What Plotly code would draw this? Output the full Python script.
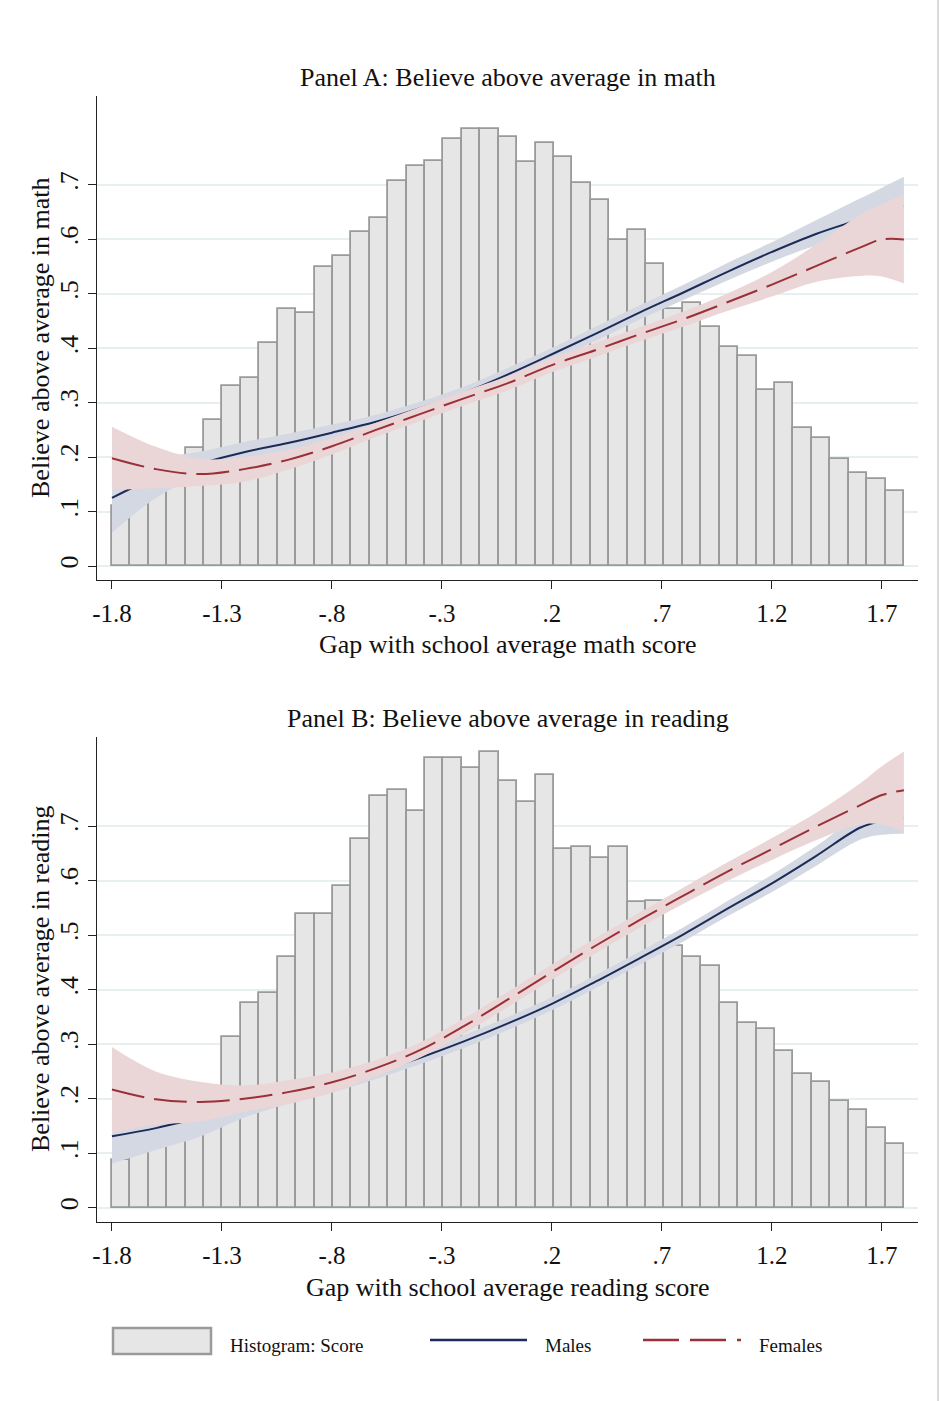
import numpy as np
import plotly.graph_objects as go

# ---------------- data ----------------
# histogram: 43 equal-width bins spanning the score gap range
hist_start, hist_end = -1.8, 1.8
math_hist = [0.110, 0.135, 0.160, 0.185, 0.217, 0.268, 0.331, 0.345, 0.410, 0.472,
             0.465, 0.549, 0.570, 0.614, 0.640, 0.708, 0.734, 0.745, 0.785, 0.802,
             0.802, 0.788, 0.742, 0.778, 0.752, 0.704, 0.672, 0.599, 0.617, 0.555,
             0.472, 0.483, 0.440, 0.403, 0.385, 0.323, 0.337, 0.254, 0.236, 0.196,
             0.170, 0.160, 0.138]
read_hist = [0.0875, 0.120, 0.140, 0.160, 0.185, 0.210, 0.314, 0.375, 0.393, 0.459,
             0.539, 0.539, 0.590, 0.677, 0.755, 0.766, 0.728, 0.825, 0.825, 0.806,
             0.836, 0.782, 0.745, 0.793, 0.658, 0.661, 0.641, 0.661, 0.560, 0.563,
             0.480, 0.459, 0.444, 0.375, 0.338, 0.327, 0.288, 0.245, 0.230, 0.195,
             0.179, 0.147, 0.117]

# fitted shares and 95% bands, evaluated on a common grid of the score gap
gap = [-1.8, -1.6, -1.4, -1.2, -1.0, -0.8, -0.6, -0.4, -0.2, 0.0,
       0.2, 0.4, 0.6, 0.8, 1.0, 1.2, 1.4, 1.6, 1.7, 1.8]

math_male = [0.125, 0.163, 0.188, 0.209, 0.226, 0.245, 0.265, 0.290, 0.318, 0.352,
             0.389, 0.427, 0.466, 0.503, 0.541, 0.577, 0.610, 0.637, 0.651, 0.662]
math_male_lo = [0.061, 0.125, 0.166, 0.190, 0.210, 0.230, 0.252, 0.278, 0.306, 0.340,
                0.377, 0.414, 0.453, 0.489, 0.525, 0.559, 0.588, 0.600, 0.605, 0.607]
math_male_hi = [0.190, 0.200, 0.210, 0.228, 0.243, 0.260, 0.278, 0.302, 0.330, 0.364,
                0.401, 0.440, 0.479, 0.517, 0.557, 0.595, 0.635, 0.675, 0.695, 0.715]
math_fem = [0.198, 0.178, 0.169, 0.178, 0.195, 0.220, 0.250, 0.279, 0.308, 0.336,
            0.369, 0.397, 0.426, 0.454, 0.485, 0.517, 0.551, 0.585, 0.600, 0.600]
math_fem_lo = [0.140, 0.143, 0.147, 0.155, 0.177, 0.205, 0.237, 0.266, 0.295, 0.323,
               0.356, 0.384, 0.413, 0.440, 0.469, 0.495, 0.522, 0.533, 0.532, 0.519]
math_fem_hi = [0.256, 0.219, 0.197, 0.200, 0.213, 0.235, 0.263, 0.292, 0.321, 0.349,
               0.382, 0.410, 0.439, 0.468, 0.501, 0.540, 0.590, 0.645, 0.665, 0.682]

read_male = [0.131, 0.146, 0.165, 0.184, 0.204, 0.224, 0.248, 0.275, 0.305, 0.338,
             0.374, 0.415, 0.458, 0.502, 0.549, 0.595, 0.645, 0.697, 0.710, 0.715]
read_male_lo = [0.081, 0.106, 0.130, 0.165, 0.190, 0.211, 0.236, 0.263, 0.293, 0.326,
                0.362, 0.403, 0.446, 0.489, 0.535, 0.579, 0.627, 0.675, 0.684, 0.686]
read_male_hi = [0.180, 0.185, 0.195, 0.203, 0.218, 0.237, 0.260, 0.287, 0.317, 0.350,
                0.386, 0.427, 0.470, 0.515, 0.563, 0.611, 0.663, 0.720, 0.735, 0.745]
read_fem = [0.217, 0.199, 0.194, 0.200, 0.212, 0.230, 0.256, 0.289, 0.333, 0.382,
            0.432, 0.481, 0.528, 0.573, 0.617, 0.658, 0.699, 0.738, 0.757, 0.766]
read_fem_lo = [0.137, 0.152, 0.158, 0.176, 0.190, 0.212, 0.241, 0.275, 0.319, 0.368,
               0.418, 0.467, 0.514, 0.558, 0.600, 0.638, 0.674, 0.703, 0.703, 0.690]
read_fem_hi = [0.295, 0.250, 0.231, 0.224, 0.234, 0.248, 0.271, 0.303, 0.347, 0.396,
               0.446, 0.495, 0.542, 0.588, 0.634, 0.678, 0.724, 0.778, 0.810, 0.837]

x_tickvals = [-1.8, -1.3, -0.8, -0.3, 0.2, 0.7, 1.2, 1.7]
x_ticktext = ["-1.8", "-1.3", "-.8", "-.3", ".2", ".7", "1.2", "1.7"]
y_tickvals = [0, 0.1, 0.2, 0.3, 0.4, 0.5, 0.6, 0.7]
y_ticktext = ["0", ".1", ".2", ".3", ".4", ".5", ".6", ".7"]

# ---------------- styling ----------------
W, H = 940, 1401
FONT = "Liberation Serif"
BAR_FILL, BAR_EDGE = "#E6E6E6", "#9A9A9A"
NAVY, NAVY_BAND = "#1C2B58", "#D3D8E2"
RED, RED_BAND = "#9A3038", "#EBD6D7"
GRID = "#E8EFF1"
DASH = "33px,10px"


def px(x):
    return x / W


def py(y):
    return 1 - y / H


n_bins = len(math_hist)
bin_w = (hist_end - hist_start) / n_bins
centers = hist_start + bin_w * (np.arange(n_bins) + 0.5)

fig = go.Figure()


def add_panel(hist, male, male_lo, male_hi, fem, fem_lo, fem_hi, xa, ya):
    fig.add_trace(go.Bar(x=centers, y=hist, width=bin_w, xaxis=xa, yaxis=ya,
                         marker=dict(color=BAR_FILL, line=dict(color=BAR_EDGE, width=1.8)),
                         name="Histogram: Score", showlegend=False))
    fig.add_trace(go.Scatter(x=gap, y=male_lo, xaxis=xa, yaxis=ya, mode="lines",
                             line=dict(width=0, shape="spline"), showlegend=False,
                             hoverinfo="skip"))
    fig.add_trace(go.Scatter(x=gap, y=male_hi, xaxis=xa, yaxis=ya, mode="lines",
                             line=dict(width=0, shape="spline"), fill="tonexty",
                             fillcolor=NAVY_BAND, showlegend=False, hoverinfo="skip"))
    fig.add_trace(go.Scatter(x=gap, y=male, xaxis=xa, yaxis=ya, mode="lines",
                             line=dict(color=NAVY, width=2, shape="spline"),
                             name="Males", showlegend=False))
    fig.add_trace(go.Scatter(x=gap, y=fem_lo, xaxis=xa, yaxis=ya, mode="lines",
                             line=dict(width=0, shape="spline"), showlegend=False,
                             hoverinfo="skip"))
    fig.add_trace(go.Scatter(x=gap, y=fem_hi, xaxis=xa, yaxis=ya, mode="lines",
                             line=dict(width=0, shape="spline"), fill="tonexty",
                             fillcolor=RED_BAND, showlegend=False, hoverinfo="skip"))
    fig.add_trace(go.Scatter(x=gap, y=fem, xaxis=xa, yaxis=ya, mode="lines",
                             line=dict(color=RED, width=2, shape="spline", dash=DASH),
                             name="Females", showlegend=False))


add_panel(math_hist, math_male, math_male_lo, math_male_hi,
          math_fem, math_fem_lo, math_fem_hi, "x", "y")
add_panel(read_hist, read_male, read_male_lo, read_male_hi,
          read_fem, read_fem_lo, read_fem_hi, "x2", "y2")

x_dom = [px(97), px(918)]
x_range = [-1.868, 1.864]
y_range = [-0.0257, 0.8635]

xcommon = dict(range=x_range, tickvals=x_tickvals, ticktext=x_ticktext,
               ticks="outside", ticklen=8, tickwidth=1.2, tickcolor="#222",
               showline=True, linecolor="#222", linewidth=1.2, showgrid=False,
               zeroline=False, tickfont=dict(family=FONT, size=25, color="#111"),
               ticklabelstandoff=3, automargin=False,
               domain=x_dom, fixedrange=True)
ycommon = dict(range=y_range, tickvals=y_tickvals, ticktext=y_ticktext,
               ticks="outside", ticklen=8, tickwidth=1.2, tickcolor="#222",
               showline=True, linecolor="#222", linewidth=1.2, showgrid=True,
               gridcolor=GRID, gridwidth=1.5, zeroline=False, tickangle=-90,
               automargin=False,
               tickfont=dict(family=FONT, size=26, color="#111"), fixedrange=True)

fig.update_layout(
    width=W, height=H,
    margin=dict(l=0, r=0, t=0, b=0),
    paper_bgcolor="white", plot_bgcolor="white",
    showlegend=False, bargap=0,
    font=dict(family=FONT, color="#111"),
    xaxis=dict(xcommon, anchor="y"),
    yaxis=dict(ycommon, anchor="x", domain=[py(580), py(96)]),
    xaxis2=dict(xcommon, anchor="y2"),
    yaxis2=dict(ycommon, anchor="x2", domain=[py(1221.7), py(737)]),
)

anns = []


def text(x, y, s, size=26, angle=0, xanchor="center"):
    anns.append(dict(x=px(x), y=py(y), xref="paper", yref="paper", text=s,
                     showarrow=False, xanchor=xanchor, yanchor="middle",
                     textangle=angle, font=dict(family=FONT, size=size, color="#111")))


# panel titles and axis titles
text(507.5, 77, "Panel A: Believe above average in math")
text(507.5, 645, "Gap with school average math score")
text(40, 338, "Believe above average in math", angle=-90)
text(507.5, 719, "Panel B: Believe above average in reading")
text(507.5, 1287, "Gap with school average reading score")
text(40, 979, "Believe above average in reading", angle=-90)

# legend
text(228, 1345, "Histogram: Score", size=19, xanchor="left")
text(543, 1345, "Males", size=19, xanchor="left")
text(757, 1345, "Females", size=19, xanchor="left")
fig.update_layout(annotations=anns)

shapes = [
    dict(type="rect", xref="paper", yref="paper", x0=px(113), x1=px(211),
         y0=py(1354), y1=py(1328), fillcolor=BAR_FILL,
         line=dict(color=BAR_EDGE, width=2.5)),
    dict(type="line", xref="paper", yref="paper", x0=px(430), x1=px(527),
         y0=py(1340), y1=py(1340), line=dict(color=NAVY, width=2.5)),
    dict(type="line", xref="paper", yref="paper", x0=px(643), x1=px(741),
         y0=py(1340), y1=py(1340), line=dict(color=RED, width=2.5, dash="36px,11px")),
    dict(type="line", xref="paper", yref="paper", x0=px(938), x1=px(938),
         y0=0, y1=1, line=dict(color="#DADADA", width=2)),
]
fig.update_layout(shapes=shapes)

fig.write_html("out.html")
